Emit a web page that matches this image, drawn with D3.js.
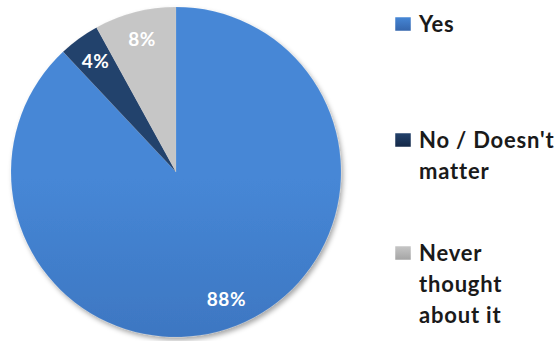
<!DOCTYPE html>
<html>
<head>
<meta charset="utf-8">
<script src="https://cdn.jsdelivr.net/npm/d3@7"></script>
<style>
  body { margin: 0; background: #fff; }
  svg { display: block; }
</style>
</head>
<body>
<svg id="chart" width="555" height="341"></svg>
<script>
const categories = ['Yes', 'No / Doesn\'t matter', 'Never thought about it'];
const values = [88, 4, 8];
const legendLines = [['Yes'], ['No / Doesn\'t', 'matter'], ['Never', 'thought', 'about it']];
const colors = [
  ['#4687d6', '#3465ac'],
  ['#24426c', '#142847'],
  ['#c6c6c6', '#a4a4a4']
];

const svg = d3.select('#chart');
const cx = 176, cy = 172, r = 165;

const defs = svg.append('defs');
colors.forEach((c, i) => {
  const g = defs.append('linearGradient')
    .attr('id', 'grad' + i)
    .attr('gradientUnits', 'userSpaceOnUse')
    .attr('x1', 0).attr('y1', cy - r).attr('x2', 0).attr('y2', cy + r);
  g.append('stop').attr('offset', '0%').attr('stop-color', c[0]);
  g.append('stop').attr('offset', '100%').attr('stop-color', c[1]);
  const lg = defs.append('linearGradient')
    .attr('id', 'lgrad' + i)
    .attr('x1', 0).attr('y1', 0).attr('x2', 0).attr('y2', 1);
  lg.append('stop').attr('offset', '0%').attr('stop-color', c[0]);
  lg.append('stop').attr('offset', '100%').attr('stop-color', c[1]);
});
const f = defs.append('filter').attr('id', 'shadow')
  .attr('x', '-10%').attr('y', '-10%').attr('width', '120%').attr('height', '120%');
f.append('feDropShadow').attr('dx', 2).attr('dy', 3).attr('stdDeviation', 2.5)
  .attr('flood-color', '#000').attr('flood-opacity', 0.35);

const pie = d3.pie().sort(null).value(d => d);
const arcs = pie(values);
const arc = d3.arc().innerRadius(0).outerRadius(r);
const labelArc = d3.arc().innerRadius(r * 0.83).outerRadius(r * 0.83);

const g = svg.append('g').attr('transform', `translate(${cx},${cy})`);
g.append('g').attr('filter', 'url(#shadow)')
  .selectAll('path')
  .data(arcs)
  .enter().append('path')
  .attr('d', arc)
  .attr('fill', (d, i) => `url(#grad${i})`)
  .attr('stroke', 'rgba(255,255,255,0.15)')
  .attr('stroke-width', 0.5);

g.selectAll('text.lbl')
  .data(arcs)
  .enter().append('text')
  .attr('class', 'lbl')
  .attr('transform', d => `translate(${labelArc.centroid(d)})`)
  .attr('text-anchor', 'middle')
  .attr('dy', '0.36em')
  .style('font-family', 'Lato, "Open Sans", sans-serif')
  .style('font-weight', 'bold')
  .style('font-size', '19px')
  .style('letter-spacing', '0.5px')
  .style('fill', '#fff')
  .text(d => d.data + '%');

// legend
const legendY = [32, 148, 261];
const legend = svg.append('g');
legendLines.forEach((lines, i) => {
  const lg = legend.append('g').attr('transform', `translate(395,${legendY[i]})`);
  lg.append('rect')
    .attr('x', 0).attr('y', -15).attr('width', 16).attr('height', 14)
    .attr('fill', `url(#lgrad${i})`)
    .attr('stroke', '#fff').attr('stroke-width', 0.5);
  lines.forEach((t, j) => {
    lg.append('text')
      .attr('x', 24)
      .attr('y', j * 31)
      .style('font-family', 'Lato, "Open Sans", sans-serif')
      .style('font-weight', 'bold')
      .style('font-size', '22px')
      .style('letter-spacing', '0.8px')
      .style('fill', '#1a1a1a')
      .text(t);
  });
});
</script>
</body>
</html>
